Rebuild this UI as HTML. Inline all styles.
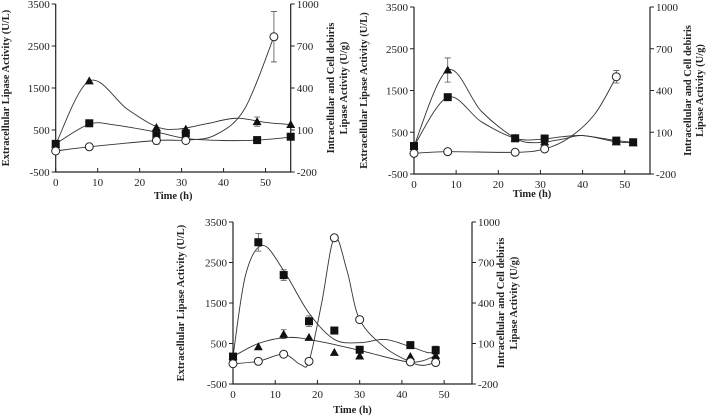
<!DOCTYPE html>
<html><head><meta charset="utf-8">
<style>
body{margin:0;background:#fff;}
svg{display:block;}
text{font-family:"Liberation Serif","DejaVu Serif","Times New Roman",serif;}
.tk{font-size:11px;fill:#222;}
.tt{font-size:10.5px;font-weight:bold;fill:#222;}
</style></head>
<body>
<svg id="fig" width="709" height="418" viewBox="0 0 709 418"></svg>
<script>
// ---------- Panel A data ----------
const aTriT=[0,8,24,31,48,56];
const aTriV=[160,1670,560,520,700,630];
const aSqT=[0,8,24,31,48,56];
const aSqV=[170,660,380,420,260,340];
const aCirT=[0,8,24,31,52];
const aCirV=[0,100,250,250,2720];
const aTriFitT=[0,8,17,24,29,36,43,50,56];
const aTriFitV=[160,1670,1000,580,520,650,780,680,630];
const aSqFitT=[0,8,14,24,31,40,48,56];
const aSqFitV=[170,640,620,450,300,250,260,330];
const aCirFitT=[0,8,24,31,38,45,52];
const aCirFitV=[0,100,250,260,380,1000,2720];
// ---------- Panel B data ----------
const bTriT=[0,8,24,31,48,52];
const bTriV=[170,1990,360,270,270,250];
const bSqT=[0,8,24,31,48,52];
const bSqV=[170,1340,355,350,300,260];
const bCirT=[0,8,24,31,48];
const bCirV=[-5,35,20,100,1830];
const bTriFitT=[0,8,16,24,29,35,40,48,52];
const bTriFitV=[170,1990,1000,360,250,330,420,270,250];
const bSqFitT=[0,8,16,24,30,35,40,48,52];
const bSqFitV=[170,1340,750,355,330,390,420,300,260];
const bCirFitT=[0,8,24,31,37,43,48];
const bCirFitV=[-5,35,20,100,380,950,1830];
// ---------- Panel C data ----------
const cSqT=[0,6,12,18,24,30,42,48];
const cSqV=[177,3000,2190,1050,820,345,460,335];
const cTriT=[0,6,12,18,24,30,42,48];
const cTriV=[175,420,730,650,280,190,180,200];
const cCirT=[0,6,12,18,24,30,42,48];
const cCirV=[0,60,235,60,3110,1090,45,30];
const cSqFitT=[0,3,7,12,18,24,30,36,42,46,48];
const cSqFitV=[175,2200,2920,2300,1250,600,520,600,420,280,280];
const cTriFitT=[0,6,13,20,30,42,48];
const cTriFitV=[175,500,650,560,330,40,200];
const cCirFitT=[0,6,12,16,18,21,24,27,30,36,42,45,48];
const cCirFitV=[0,60,235,-20,60,1500,3110,2300,1090,400,45,-40,30];
// tick labels
const xTicks=[0,10,20,30,40,50];
const yLeftTicks=[-500,500,1500,2500,3500];
const yRightTicks=["-200","100","400","700","1000"];

const NS="http://www.w3.org/2000/svg";
const svg=document.getElementById('fig');
function mk(tag,attrs,parent){const e=document.createElementNS(NS,tag);for(const k in attrs)e.setAttribute(k,attrs[k]);(parent||svg).appendChild(e);return e;}

function catmull(pts){
  let d="M"+pts[0][0]+","+pts[0][1];
  for(let i=0;i<pts.length-1;i++){
    const p0=pts[i-1]||pts[i],p1=pts[i],p2=pts[i+1],p3=pts[i+2]||p2;
    const c1x=p1[0]+(p2[0]-p0[0])/6,c1y=p1[1]+(p2[1]-p0[1])/6;
    const c2x=p2[0]-(p3[0]-p1[0])/6,c2y=p2[1]-(p3[1]-p1[1])/6;
    d+=" C"+c1x+","+c1y+" "+c2x+","+c2y+" "+p2[0]+","+p2[1];
  }
  return d;
}

function panel(cfg){
  const g=mk('g',{});
  
  
  const X=t=>cfg.x0+t/cfg.xmax*(cfg.x1-cfg.x0);
  const Y=v=>cfg.yb-(v+500)/4000*(cfg.yb-cfg.yt);
  const ax=mk('path',{d:`M${cfg.x0},${cfg.yt}V${cfg.yb}H${cfg.x1}V${cfg.yt}`,fill:'none',stroke:'#222','stroke-width':1.2},g);
  
  
  xTicks.forEach(t=>{
    mk('line',{x1:X(t),x2:X(t),y1:cfg.yb,y2:cfg.yb-4,stroke:'#222'},g);
    const tx=mk('text',{x:X(t),y:cfg.yb+14,'text-anchor':'middle',class:'tk'},g);
    tx.textContent=t;
    
    
  });
  yLeftTicks.forEach((v,i)=>{
    mk('line',{x1:cfg.x0,x2:cfg.x0-4,y1:Y(v),y2:Y(v),stroke:'#222'},g);
    mk('line',{x1:cfg.x1,x2:cfg.x1+4,y1:Y(v),y2:Y(v),stroke:'#222'},g);
    const a=mk('text',{x:cfg.x0-6,y:Y(v)+4,'text-anchor':'end',class:'tk'},g);
    a.textContent=v;
    
    
    const b=mk('text',{x:cfg.x1+6,y:Y(v)+4,'text-anchor':'start',class:'tk'},g);
    b.textContent=yRightTicks[i];
    
    
  });
  const xt=mk('text',{x:(cfg.x0+cfg.x1)/2,y:cfg.yb+cfg.xtOff,'text-anchor':'middle',class:'tt'},g);
  xt.textContent='Time (h)';
  
  
  const cy=(cfg.yt+cfg.yb)/2;
  const yl=mk('text',{x:cfg.lx,y:cy,'text-anchor':'middle',class:'tt',transform:`rotate(-90 ${cfg.lx} ${cy})`},g);
  yl.textContent='Extracellular Lipase Activity (U/L)';
  
  
  [['Intracellular and Cell debiris',cfg.rx1],['Lipase Activity (U/g)',cfg.rx2]].forEach(([s,x])=>{
    const r=mk('text',{x:x,y:cy,'text-anchor':'middle',class:'tt',transform:`rotate(-90 ${x} ${cy})`},g);
    r.textContent=s;
    
    
  });
  cfg.curves.forEach(([T,V,nm])=>{
    const p=mk('path',{d:catmull(T.map((t,i)=>[X(t),Y(V[i])])),fill:'none',stroke:'#333','stroke-width':0.9},g);
    
    
  });
  (cfg.errs||[]).forEach(([t,v,e])=>{
    const eb=mk('path',{d:`M${X(t)},${Y(v+e)}V${Y(v-e)}M${X(t)-3},${Y(v+e)}h6M${X(t)-3},${Y(v-e)}h6`,stroke:'#555','stroke-width':0.8,fill:'none'},g);
    
    
  });
  cfg.sq[0].forEach((t,i)=>{
    const m=mk('rect',{x:X(t)-4,y:Y(cfg.sq[1][i])-4,width:8,height:8,fill:'#111'},g);
    
    
  });
  cfg.tri[0].forEach((t,i)=>{
    const x=X(t),y=Y(cfg.tri[1][i]);
    const m=mk('path',{d:`M${x},${y-4.5}L${x+4.5},${y+3.5}L${x-4.5},${y+3.5}Z`,fill:'#111'},g);
    
    
  });
  cfg.cir[0].forEach((t,i)=>{
    const m=mk('circle',{cx:X(t),cy:Y(cfg.cir[1][i]),r:4,fill:'#fff',stroke:'#222','stroke-width':1},g);
    
    
  });
}

panel({name:'panel-a',x0:55.7,x1:290.7,xmax:56,yt:4,yb:172,lx:9,rx1:334,rx2:347,xtOff:27,
  curves:[[aTriFitT,aTriFitV,'triangle-curve'],[aSqFitT,aSqFitV,'square-curve'],[aCirFitT,aCirFitV,'circle-curve']],
  errs:[[52,2720,600],[48,700,110],[24,250,90]],
  sq:[aSqT,aSqV],tri:[aTriT,aTriV],cir:[aCirT,aCirV]});
panel({name:'panel-b',x0:414,x1:650,xmax:56,yt:7,yb:174,lx:367,rx1:691,rx2:703,xtOff:23,
  curves:[[bTriFitT,bTriFitV,'triangle-curve'],[bSqFitT,bSqFitV,'square-curve'],[bCirFitT,bCirFitV,'circle-curve']],
  errs:[[8,1990,290],[48,1830,150],[8,1340,60]],
  sq:[bSqT,bSqV],tri:[bTriT,bTriV],cir:[bCirT,bCirV]});
panel({name:'panel-c',x0:233,x1:472,xmax:56.6,yt:222,yb:384,lx:184,rx1:504,rx2:517,xtOff:29,
  curves:[[cSqFitT,cSqFitV,'square-trend-curve'],[cTriFitT,cTriFitV,'triangle-trend-curve'],[cCirFitT,cCirFitV,'circle-curve']],
  errs:[[6,3000,220],[12,2190,130],[18,1050,130],[12,730,110],[48,335,100]],
  sq:[cSqT,cSqV],tri:[cTriT,cTriV],cir:[cCirT,cCirV]});
</script>
</body></html>
